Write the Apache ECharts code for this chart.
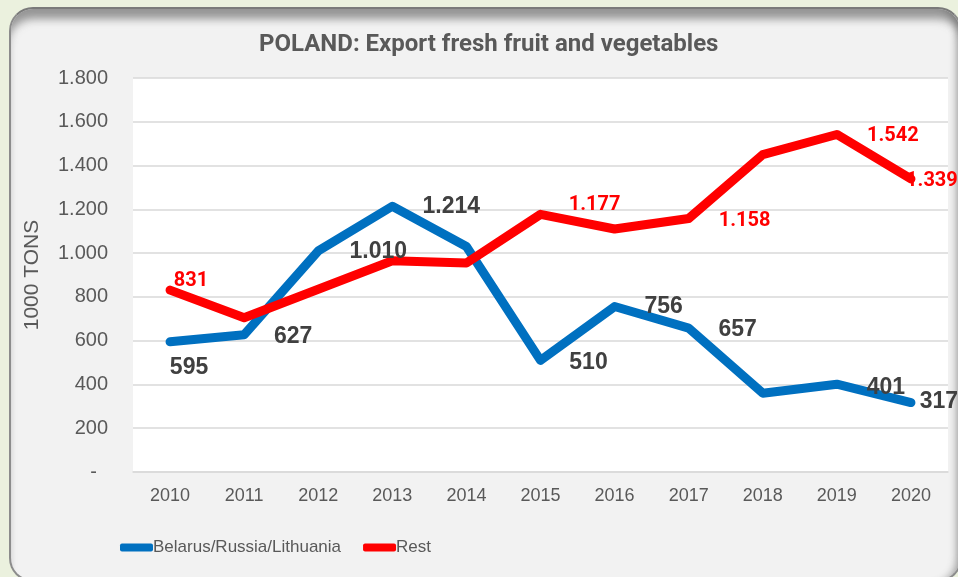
<!DOCTYPE html>
<html>
<head>
<meta charset="utf-8">
<script src="https://cdn.jsdelivr.net/npm/echarts@6/dist/echarts.min.js"></script>
<style>
  html, body { margin: 0; padding: 0; background: #ebf1de; }
  .card {
    position: absolute; left: 9px; top: 7px; width: 949px; height: 571px;
    border-radius: 24px; background: #f2f2f2;
    border: 2px solid #8c8c8c; border-top-color: #7a7a7a;
    box-shadow: inset 0 13px 9px -3px rgba(90, 90, 90, 0.6), inset -9px 0 7px -5px rgba(90, 90, 90, 0.45);
  }
  #chart { position: absolute; left: 0; top: 0; width: 958px; height: 577px; }
</style>
</head>
<body>
<div class="card"></div>
<div id="chart"></div>
<script>
// categories and values
const years = ['2010', '2011', '2012', '2013', '2014', '2015', '2016', '2017', '2018', '2019', '2020']
const belarusRussiaLithuania = [595, 627, 1010, 1214, 1030, 510, 756, 657, 360, 401, 317]
const rest = [831, 705, 835, 965, 955, 1177, 1110, 1158, 1450, 1542, 1339]
const yTicks = [0, 200, 400, 600, 800, 1000, 1200, 1400, 1600, 1800]

// which points carry a label, and where it sits (offset from the point)
const blueLabelOffsets = { 0: [19, 26], 1: [49, 2], 2: [60, 1], 3: [59, 0], 5: [48, 2], 6: [49, 0], 7: [49, 1], 9: [49, 3], 10: [28, -1] }
const redLabelOffsets = { 0: [21, -9], 5: [54, -9], 7: [56, 2], 9: [56, 2], 10: [21, 2] }

// 1.214 style thousands separator, '-' for zero
function fmt(v) {
  if (v === 0) return '-  '
  if (v >= 1000) return Math.floor(v / 1000) + '.' + String(v % 1000).padStart(3, '0')
  return String(v)
}

function buildData(values, offsets, labelStyle) {
  return values.map((v, i) => {
    if (!offsets[i]) return { value: v, label: { show: false } }
    return {
      value: v,
      label: Object.assign({ show: true, position: 'inside', offset: offsets[i] }, labelStyle)
    }
  })
}

const chart = echarts.init(document.getElementById('chart'))

const blueLabel = { color: '#404040', fontSize: 23, fontWeight: 'bold', fontFamily: 'Liberation Sans, Arial, sans-serif', formatter: p => fmt(p.value) }
const redLabel = { color: '#ff0000', fontSize: 20, fontWeight: 'bold', fontFamily: 'Roboto, sans-serif', formatter: p => fmt(p.value) }

chart.setOption({
  animation: false,
  title: {
    text: 'POLAND: Export fresh fruit and vegetables',
    left: 254,
    top: 28,
    textStyle: { color: '#595959', fontSize: 24, fontWeight: 'bold', fontFamily: 'Roboto, sans-serif' }
  },
  legend: {
    left: 115,
    top: 534,
    itemWidth: 33,
    itemHeight: 8,
    itemGap: 22,
    icon: 'roundRect',
    textStyle: { color: '#595959', fontSize: 17, fontFamily: 'Liberation Sans, Arial, sans-serif', padding: [0, 0, 0, -5] },
    data: ['Belarus/Russia/Lithuania', 'Rest']
  },
  grid: {
    left: 133,
    right: 10,
    top: 78,
    bottom: 105,
    show: true,
    backgroundColor: '#ffffff',
    borderWidth: 0
  },
  xAxis: {
    type: 'category',
    boundaryGap: true,
    data: years,
    axisLine: { lineStyle: { color: '#d9d9d9', width: 1.5 } },
    axisTick: { show: false },
    axisLabel: { color: '#595959', fontSize: 18, margin: 15, fontFamily: 'Liberation Sans, Arial, sans-serif' }
  },
  yAxis: {
    type: 'value',
    min: yTicks[0],
    max: yTicks[yTicks.length - 1],
    interval: 200,
    name: '1000 TONS',
    nameLocation: 'middle',
    nameRotate: 90,
    nameGap: 90,
    nameTextStyle: { color: '#595959', fontSize: 21, fontFamily: 'Liberation Sans, Arial, sans-serif' },
    axisLine: { show: false },
    axisTick: { show: false },
    axisLabel: { color: '#595959', fontSize: 20, margin: 25, fontFamily: 'Liberation Sans, Arial, sans-serif', formatter: v => fmt(v) },
    splitLine: { lineStyle: { color: '#d9d9d9', width: 1.5 } }
  },
  series: [
    {
      name: 'Belarus/Russia/Lithuania',
      type: 'line',
      data: buildData(belarusRussiaLithuania, blueLabelOffsets, blueLabel),
      symbol: 'circle',
      symbolSize: 2,
      color: '#0070c0',
      lineStyle: { width: 9, color: '#0070c0', cap: 'round', join: 'round' },
      itemStyle: { color: '#0070c0' },
      emphasis: { disabled: true }
    },
    {
      name: 'Rest',
      type: 'line',
      data: buildData(rest, redLabelOffsets, redLabel),
      symbol: 'circle',
      symbolSize: 2,
      color: '#ff0000',
      lineStyle: { width: 9, color: '#ff0000', cap: 'round', join: 'round' },
      itemStyle: { color: '#ff0000' },
      emphasis: { disabled: true }
    }
  ]
})

window.addEventListener('resize', () => chart.resize())
</script>
</body>
</html>
